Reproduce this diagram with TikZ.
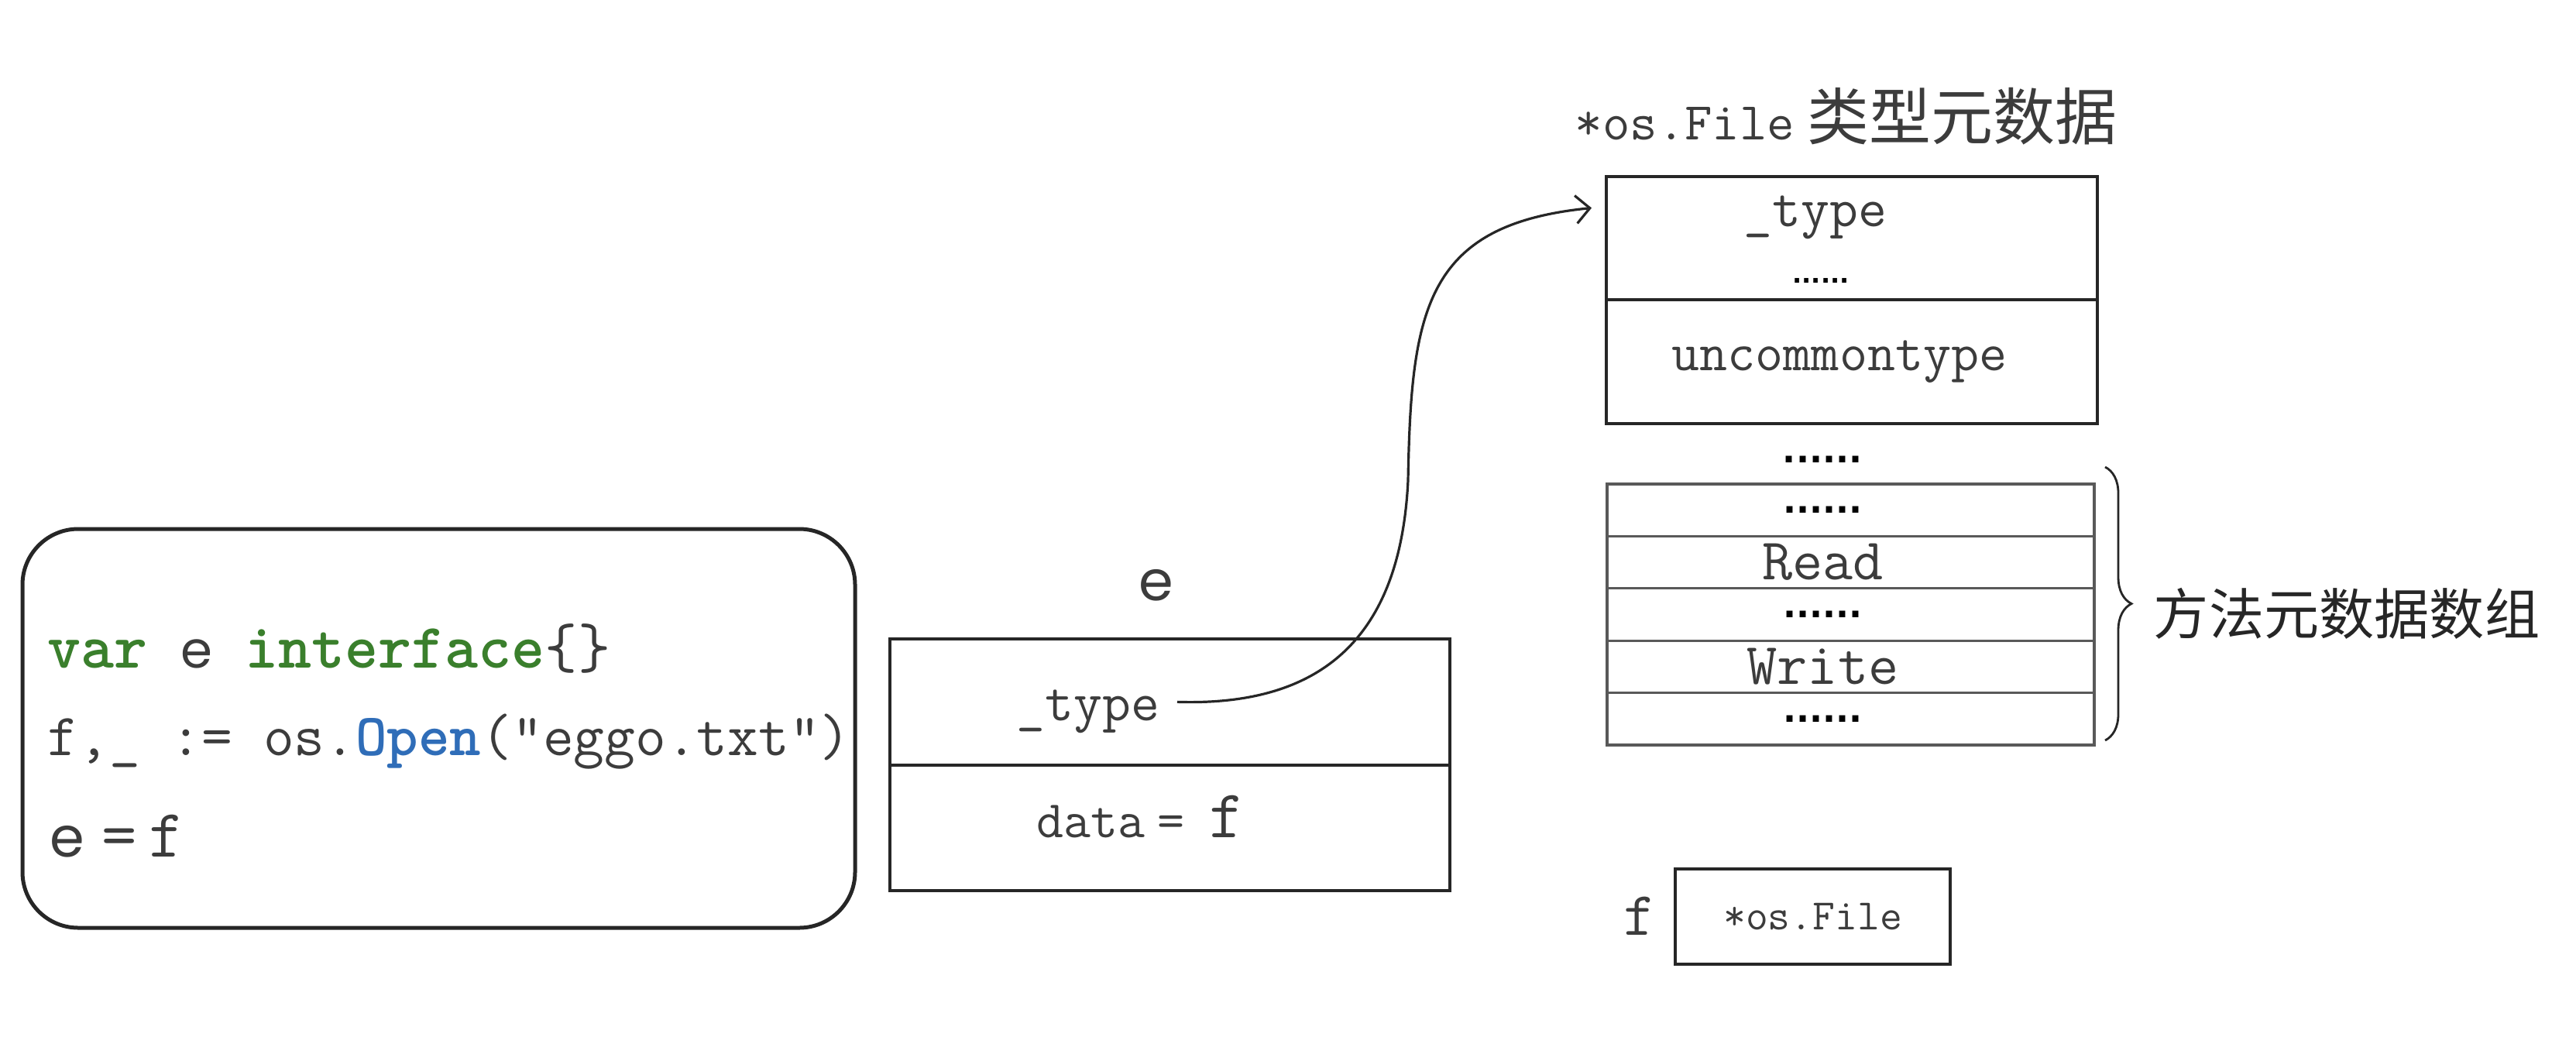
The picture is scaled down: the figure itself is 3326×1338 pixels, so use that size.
\documentclass[tikz,border=0pt]{standalone}
\usepackage{fontspec}
\usetikzlibrary{arrows.meta,decorations.pathreplacing,calc}
\newfontfamily\cjk{Noto Sans CJK SC}
\newfontfamily\geo{Poppins}
\newfontfamily\dotfont{DejaVu Sans}
\definecolor{txt}{HTML}{3C3C3C}
\definecolor{ln}{HTML}{262626}
\definecolor{kwgreen}{HTML}{3A7F2C}
\definecolor{kwblue}{HTML}{2F6DB8}
\newcommand{\fsz}[1]{\fontsize{#1}{#1}\selectfont}
\begin{document}
\begin{tikzpicture}[x=0.25pt,y=-0.25pt,
  t/.style={inner sep=0pt,text=txt},
  codebox/.style={draw=ln,line width=1.25pt,rounded corners=18pt,inner sep=0pt},
  cell/.style={draw=ln,line width=1pt,inner sep=0pt,outer sep=0pt},
  rowbox/.style={draw=black!65,line width=0.8pt,inner sep=0pt,outer sep=0pt,minimum width=157.25pt,minimum height=16.85pt},
  smalldots/.style={inner sep=0pt,text=black,font=\dotfont\bfseries\fsz{8}},
  bigdots/.style={inner sep=0pt,text=black,font=\dotfont\bfseries\fsz{11.2}},
  conn/.style={draw=ln,line width=0.8pt,-{Straight Barb[length=4.5pt,width=9pt]}}]
\useasboundingbox (0,0) rectangle (3326,1338);

% code box
\node[codebox,minimum width=268.75pt,minimum height=128.75pt] (code) at (566.5,940.5) {};
\node[t,anchor=base west,font=\ttfamily\fsz{20.5}] (l1) at (61,862)
  {\textcolor{kwgreen}{\bfseries var} {\geo\fsz{16.5}e} \textcolor{kwgreen}{\bfseries interface}\{\}};
\node[t,anchor=base west,font=\ttfamily\fsz{19.3}] (l2) at (61,975)
  {f,\_ := os.\textcolor{kwblue}{\bfseries Open}("eggo.txt")};
\node[t,anchor=base west,font=\ttfamily\fsz{22}] (l3) at (64,1106)
  {{\geo\fsz{18}e}\hspace{5.5pt}=\hspace{4pt}f};

% interface value e
\node[t,anchor=base,font=\geo\fsz{18}] (elabel) at (1493,775) {e};
\node[cell,minimum width=180.75pt,minimum height=40.75pt,anchor=north west] (eup) at (1149,825) {};
\node[cell,minimum width=180.75pt,minimum height=40.5pt,anchor=north] (edown) at (eup.south) {};
\node[t,anchor=base west,font=\ttfamily\fsz{17.9}] (etype) at (1312,930) {\_type};
\node[t,anchor=base west,font=\ttfamily\fsz{17}] (edata) at (1338,1081)
  {data\hspace{4pt}=\hspace{8pt}{\fsz{22}f}};

% type metadata
\node[t,anchor=base west,font=\ttfamily\fsz{17.2}] (ttitle) at (2033,180)
  {*os.File\hspace{4pt}{\cjk\fsz{20}类型元数据}};
\node[cell,minimum width=158.5pt,minimum height=39.75pt,anchor=north west] (tup) at (2074,228) {};
\node[cell,minimum width=158.5pt,minimum height=40pt,anchor=north] (tdown) at (tup.south) {};
\node[t,anchor=base west,font=\ttfamily\fsz{17.9}] (ttype) at (2251,292) {\_type};
\node[smalldots] (tdots) at (2351,362) {......};
\node[t,anchor=base,font=\ttfamily\fsz{17.5}] (tunc) at (2375,478) {uncommontype};

% method table
\node[bigdots] (mdots) at (2353,593) {......};
\node[rowbox,anchor=north west] (r1) at (2075,625) {};
\node[rowbox,anchor=north] (r2) at (r1.south) {};
\node[rowbox,anchor=north] (r3) at (r2.south) {};
\node[rowbox,anchor=north] (r4) at (r3.south) {};
\node[rowbox,anchor=north] (r5) at (r4.south) {};
\node[bigdots] (r1t) at ([xshift=-9pt]r1.center) {......};
\node[t,font=\ttfamily\fsz{19}] (r2t) at ([xshift=-9pt]r2.center) {Read};
\node[bigdots] (r3t) at ([xshift=-9pt]r3.center) {......};
\node[t,font=\ttfamily\fsz{19}] (r4t) at ([xshift=-9pt]r4.center) {Write};
\node[bigdots] (r5t) at ([xshift=-9pt]r5.center) {......};
\draw[decorate,decoration={brace,amplitude=8.5pt},line width=0.7pt,ln]
  ([xshift=3.5pt,yshift=5.5pt]r1.north east) -- ([xshift=3.5pt,yshift=1.5pt]r5.south east);
\node[inner sep=0pt,anchor=west,text=black!85,font=\cjk\fsz{17.8}] (mlabel) at (2780,792) {方法元数据数组};

% f variable
\node[cell,minimum width=88.75pt,minimum height=30.75pt,text=txt,font=\ttfamily\fsz{14}] (fbox) at (2340.5,1183.5) {*os.File};
\node[t,anchor=base,font=\ttfamily\fsz{20}] (flabel) at (2117,1207) {f};

% connector
\draw[conn] ([xshift=5.5pt,yshift=3pt]etype.east) .. controls (1700,912) and (1808,830) .. (1818,620)
  .. controls (1822,400) and (1840,290) .. ([xshift=-4.75pt,yshift=9.75pt]tup.west);
\end{tikzpicture}
\end{document}
